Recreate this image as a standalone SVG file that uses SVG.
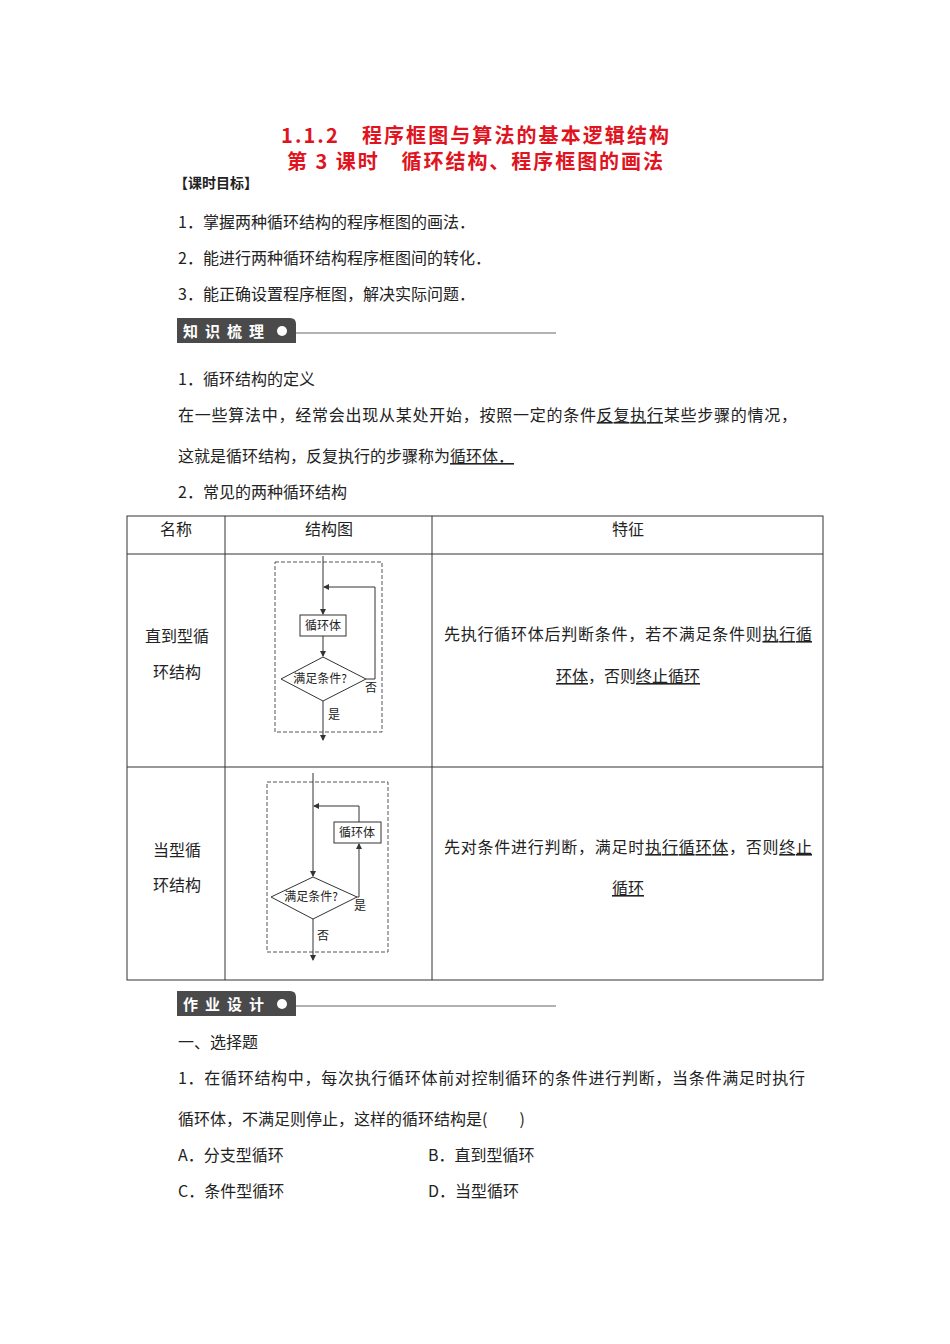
<svg xmlns="http://www.w3.org/2000/svg" width="950" height="1344" viewBox="0 0 950 1344">
<defs>
<marker id="ar" markerWidth="6" markerHeight="6" refX="5" refY="3" orient="auto" markerUnits="userSpaceOnUse"><path d="M0,0 L6,3 L0,6 z" fill="#333"/></marker>
</defs>
<style>
text{font-family:"Noto Sans CJK SC",sans-serif;fill:#222;font-size:16px}
.t{fill:#e0141e;font-weight:bold;font-size:20px}
.s{font-size:12px}
.b{font-weight:bold;fill:#fff;font-size:15px;letter-spacing:7px}
.ln{stroke:#333;stroke-width:1;fill:none}
.dash{stroke:#555;stroke-dasharray:4,2;fill:none}
.u{text-decoration:underline}
</style>
<rect width="950" height="1344" fill="#fff"/>
<text class="t" x="281" y="143" textLength="388" lengthAdjust="spacing">1.1.2　程序框图与算法的基本逻辑结构</text>
<text class="t" x="287" y="169" textLength="376" lengthAdjust="spacing">第 3 课时　循环结构、程序框图的画法</text>
<text x="174" y="188" style="font-weight:bold;font-size:14px">【课时目标】</text>
<text x="178" y="228">1．掌握两种循环结构的程序框图的画法．</text>
<text x="178" y="264">2．能进行两种循环结构程序框图间的转化．</text>
<text x="178" y="300">3．能正确设置程序框图，解决实际问题．</text>
<g id="banner1">
<path d="M177,343 V318 H290 Q296,318 296,324 V343 z" fill="#4a4a4a"/>
<text class="b" x="183" y="337">知识梳理</text>
<circle cx="282" cy="331" r="5" fill="#fff"/>
<line x1="296" y1="333" x2="556" y2="333" stroke="#999" stroke-width="1.5"/>
</g>
<text x="178" y="385">1．循环结构的定义</text>
<text x="178" y="421" textLength="619" lengthAdjust="spacing">在一些算法中，经常会出现从某处开始，按照一定的条件<tspan class="u">反复执行</tspan>某些步骤的情况，</text>
<text x="178" y="462">这就是循环结构，反复执行的步骤称为<tspan class="u">循环体．</tspan></text>
<text x="178" y="498">2．常见的两种循环结构</text>
<g id="table" class="ln">
<rect x="127" y="516" width="696" height="464"/>
<line x1="127" y1="554" x2="823" y2="554"/>
<line x1="127" y1="767" x2="823" y2="767"/>
<line x1="225" y1="516" x2="225" y2="980"/>
<line x1="432" y1="516" x2="432" y2="980"/>
</g>
<text x="176" y="535" text-anchor="middle">名称</text>
<text x="329" y="535" text-anchor="middle">结构图</text>
<text x="628" y="535" text-anchor="middle">特征</text>
<text x="177" y="642" text-anchor="middle">直到型循</text>
<text x="177" y="678" text-anchor="middle">环结构</text>
<text x="177" y="856" text-anchor="middle">当型循</text>
<text x="177" y="891" text-anchor="middle">环结构</text>
<text x="444" y="640" textLength="368" lengthAdjust="spacing">先执行循环体后判断条件，若不满足条件则<tspan class="u">执行循</tspan></text>
<text x="628" y="682" text-anchor="middle"><tspan class="u">环体</tspan>，否则<tspan class="u">终止循环</tspan></text>
<text x="444" y="853" textLength="368" lengthAdjust="spacing">先对条件进行判断，满足时<tspan class="u">执行循环体</tspan>，否则<tspan class="u">终止</tspan></text>
<text x="628" y="894" text-anchor="middle" class="u">循环</text>
<g id="chart1">
<rect class="dash" x="275" y="562" width="107" height="170"/>
<g class="ln">
<line x1="323" y1="556" x2="323" y2="614" marker-end="url(#ar)"/>
<line x1="323" y1="636" x2="323" y2="656" marker-end="url(#ar)"/>
<line x1="323" y1="701" x2="323" y2="740" marker-end="url(#ar)"/>
<polyline points="366,679 375,679 375,587 324,587" marker-end="url(#ar)"/>
<rect x="300" y="615" width="46" height="21"/>
<polygon points="323,657 366,679 323,701 281,679"/>
</g>
<text class="s" x="323" y="630" text-anchor="middle">循环体</text>
<text class="s" x="320" y="683" text-anchor="middle">满足条件?</text>
<text class="s" x="365" y="692">否</text>
<text class="s" x="328" y="719">是</text>
</g>
<g id="chart2">
<rect class="dash" x="267" y="782" width="121" height="170"/>
<g class="ln">
<line x1="313" y1="773" x2="313" y2="876" marker-end="url(#ar)"/>
<line x1="313" y1="919" x2="313" y2="960" marker-end="url(#ar)"/>
<polyline points="357,897 359,897 359,844" marker-end="url(#ar)"/>
<polyline points="359,822 359,806 314,806" marker-end="url(#ar)"/>
<rect x="334" y="822" width="47" height="21"/>
<polygon points="313,877 357,897 313,919 271,897"/>
</g>
<text class="s" x="357" y="837" text-anchor="middle">循环体</text>
<text class="s" x="311" y="901" text-anchor="middle">满足条件?</text>
<text class="s" x="354" y="910">是</text>
<text class="s" x="317" y="940">否</text>
</g>
<g id="banner2">
<path d="M177,1016 V991 H290 Q296,991 296,997 V1016 z" fill="#4a4a4a"/>
<text class="b" x="183" y="1010">作业设计</text>
<circle cx="282" cy="1004" r="5" fill="#fff"/>
<line x1="296" y1="1006" x2="556" y2="1006" stroke="#999" stroke-width="1.5"/>
</g>
<text x="178" y="1048">一、选择题</text>
<text x="178" y="1084" textLength="627" lengthAdjust="spacing">1．在循环结构中，每次执行循环体前对控制循环的条件进行判断，当条件满足时执行</text>
<text x="178" y="1125">循环体，不满足则停止，这样的循环结构是(　　)</text>
<text x="178" y="1161">A．分支型循环</text>
<text x="428" y="1161">B．直到型循环</text>
<text x="178" y="1197">C．条件型循环</text>
<text x="428" y="1197">D．当型循环</text>
</svg>
